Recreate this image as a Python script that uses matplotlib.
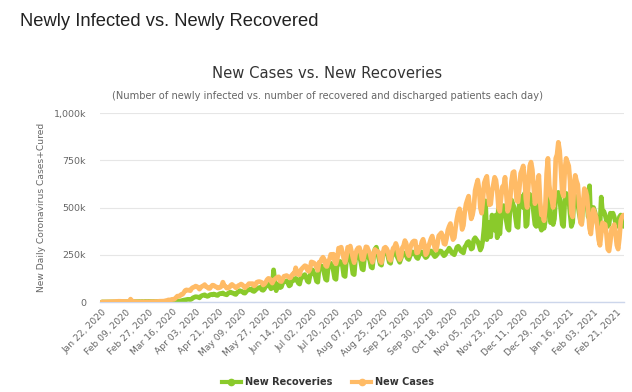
import pandas as pd
import matplotlib
matplotlib.use("Agg")
import matplotlib.pyplot as plt
from matplotlib.lines import Line2D
from matplotlib.ticker import FuncFormatter

# daily values in thousands, Jan 22, 2020 -> Feb 26, 2021 (one row per week, Wed..Tue)
new_cases = [
    0.6, 0.1, 0.3, 0.5, 0.7, 0.8, 1.3,
    1.7, 2.0, 2.1, 2.6, 2.8, 3.2, 3.9,
    3.7, 3.2, 3.4, 2.7, 3.0, 2.5, 2.0,
    2.0, 15.1, 6.5, 2.6, 2.2, 2.1, 1.9,
    0.5, 0.6, 1.0, 1.0, 1.4, 0.6, 0.9,
    1.1, 1.3, 2.0, 1.8, 2.0, 1.8, 2.5,
    2.3, 2.8, 3.9, 4.0, 3.9, 4.0, 4.6,
    7.0, 7.5, 11, 10.9, 11.5, 14.5, 13.5,
    17, 24, 31, 31, 33, 40, 41,
    50, 61, 64, 62, 63, 60, 72,
    77, 79, 84, 82, 76, 68, 77,
    83, 86, 92, 81, 79, 72, 72,
    82, 89, 88, 82, 80, 74, 75,
    78, 84, 105, 87, 83, 73, 75,
    77, 88, 93, 87, 82, 75, 80,
    87, 90, 95, 91, 83, 75, 84,
    87, 97, 97, 97, 97, 85, 90,
    104, 107, 108, 106, 103, 90, 95,
    105, 118, 125, 123, 110, 100, 115,
    121, 127, 132, 133, 110, 108, 121,
    136, 138, 140, 135, 130, 128, 141,
    150, 148, 181, 160, 145, 145, 170,
    178, 185, 192, 190, 168, 162, 175,
    212, 210, 207, 198, 183, 168, 210,
    212, 228, 237, 225, 193, 188, 212,
    226, 252, 247, 253, 212, 202, 227,
    285, 285, 290, 258, 230, 209, 240,
    290, 287, 296, 265, 233, 208, 252,
    276, 286, 288, 265, 226, 225, 260,
    292, 290, 272, 260, 230, 210, 250,
    278, 270, 268, 262, 216, 208, 252,
    285, 290, 282, 265, 228, 220, 260,
    285, 290, 310, 290, 252, 224, 238,
    287, 298, 325, 310, 262, 245, 283,
    305, 318, 323, 322, 260, 262, 289,
    288, 318, 332, 304, 250, 260, 290,
    312, 334, 349, 320, 285, 274, 305,
    350, 358, 366, 351, 309, 305, 335,
    380, 400, 415, 360, 330, 340, 395,
    440, 476, 493, 450, 384, 405, 475,
    518, 540, 560, 486, 440, 460, 500,
    590, 620, 645, 600, 500, 470, 540,
    630, 650, 665, 590, 514, 518, 585,
    620, 660, 645, 590, 496, 480, 555,
    610, 610, 660, 570, 480, 500, 545,
    640, 685, 690, 620, 536, 530, 600,
    680, 698, 720, 660, 545, 500, 620,
    720, 740, 700, 610, 520, 540, 620,
    670, 530, 460, 470, 430, 500, 680,
    760, 620, 560, 540, 500, 560, 760,
    780, 845, 800, 700, 580, 560, 700,
    760, 740, 720, 640, 470, 450, 610,
    670, 640, 620, 520, 420, 410, 520,
    600, 590, 560, 480, 390, 360, 430,
    490, 470, 450, 400, 330, 300, 360,
    420, 410, 410, 360, 280, 270, 320,
    390, 390, 410, 360, 300, 280, 340,
    430, 450, 460,
]

new_recoveries = [
    0, 0, 0, 0, 0, 0.01, 0.04,
    0.03, 0.05, 0.07, 0.08, 0.1, 0.15, 0.2,
    0.3, 0.4, 0.5, 0.7, 0.6, 0.9, 1.1,
    1.2, 1.4, 1.4, 1.7, 1.9, 2.0, 1.8,
    2.1, 2.2, 1.7, 2.8, 1.6, 2.7, 2.5,
    2.6, 3.3, 2.8, 3.0, 2.8, 2.6, 2.4,
    2.3, 2.0, 2.2, 1.7, 1.9, 1.8, 1.8,
    1.6, 1.6, 2.0, 2.5, 2.5, 3.0, 2.8,
    3.5, 3.0, 4.5, 4.0, 5.8, 6.0, 8.5,
    10, 12, 13, 14, 14, 13, 16,
    22, 25, 28, 27, 26, 22, 30,
    34, 36, 38, 33, 30, 32, 38,
    40, 38, 42, 40, 36, 35, 42,
    45, 44, 48, 42, 40, 38, 46,
    50, 52, 48, 47, 42, 40, 50,
    55, 60, 57, 55, 48, 47, 56,
    64, 66, 64, 70, 58, 56, 62,
    70, 73, 76, 78, 64, 62, 70,
    90, 85, 95, 84, 70, 75, 170,
    105, 60, 95, 88, 76, 80, 100,
    110, 108, 112, 100, 85, 90, 115,
    118, 115, 125, 120, 100, 95, 125,
    130, 140, 145, 130, 110, 105, 140,
    160, 170, 150, 140, 110, 105, 180,
    175, 190, 180, 150, 120, 115, 185,
    190, 205, 195, 165, 125, 120, 200,
    200, 215, 210, 190, 140, 135, 220,
    240, 255, 235, 200, 150, 145, 230,
    250, 260, 245, 215, 175, 170, 240,
    265, 255, 240, 220, 185, 180, 250,
    280, 290, 260, 230, 200, 195, 250,
    270, 275, 260, 240, 210, 205, 255,
    265, 270, 250, 240, 225, 210, 230,
    250, 260, 255, 245, 230, 225, 245,
    255, 265, 260, 250, 235, 230, 250,
    255, 265, 260, 245, 235, 240, 255,
    260, 270, 265, 250, 240, 245, 255,
    265, 270, 268, 255, 245, 250, 265,
    270, 285, 275, 260, 255, 250, 270,
    290, 295, 285, 270, 265, 260, 290,
    300, 315, 320, 300, 280, 285, 330,
    340, 330, 320, 300, 275, 290, 330,
    400, 535, 330, 360, 420, 345, 460,
    420, 380, 460, 340, 520, 360, 450,
    500, 510, 470, 430, 390, 380, 520,
    540, 520, 500, 450, 400, 395, 530,
    560, 540, 500, 575, 400, 410, 540,
    570, 560, 540, 470, 410, 400, 530,
    550, 400, 380, 420, 390, 430, 560,
    500, 575, 420, 440, 410, 440, 560,
    570, 580, 550, 480, 410, 400, 540,
    575, 560, 550, 470, 400, 420, 540,
    560, 550, 520, 470, 430, 420, 530,
    540, 560, 520, 450, 615, 400, 470,
    500, 480, 450, 410, 380, 400, 555,
    470, 480, 460, 430, 400, 410, 470,
    460, 470, 450, 420, 400, 410, 450,
    460, 450, 400,
]

dates = pd.date_range("2020-01-22", periods=len(new_cases), freq="D")
days = list(range(len(dates)))
tick_days = days[::18]
tick_labels = [dates[d].strftime("%b %d, %Y") for d in tick_days]

green = "#8aca2b"
orange = "#ffbb66"

fig = plt.figure(figsize=(6.32, 3.92), dpi=100)
ax = fig.add_axes([100 / 632, 1 - 302 / 392, 524 / 632, 189 / 392])

ax.plot(days, [v * 1000 for v in new_recoveries], color=green, lw=3.4,
        solid_joinstyle="round", solid_capstyle="round", zorder=2)
ax.plot(days, [v * 1000 for v in new_cases], color=orange, lw=3.4,
        solid_joinstyle="round", solid_capstyle="round", zorder=3)

ax.set_xlim(-1.5, len(days) - 0.5)
ax.set_ylim(0, 1000000)
ax.set_yticks([0, 250000, 500000, 750000, 1000000])
ax.yaxis.set_major_formatter(FuncFormatter(
    lambda v, p: "0" if v == 0 else "{:,.0f}k".format(v / 1000)))
ax.set_xticks(tick_days)
ax.set_xticklabels(tick_labels, rotation=45, ha="right", rotation_mode="anchor")

ax.grid(axis="y", color="#e6e6e6", lw=0.8)
ax.set_axisbelow(True)
for side in ["top", "right", "left"]:
    ax.spines[side].set_visible(False)
ax.spines["bottom"].set_color("#ccd6eb")
ax.spines["bottom"].set_linewidth(1.0)
ax.tick_params(axis="y", length=0, pad=10, labelsize=6.8, labelcolor="#666666")
ax.tick_params(axis="x", length=0, pad=4, labelsize=6.6, labelcolor="#666666")

fig.text(42 / 632, 1 - 207 / 392, "New Daily Coronavirus Cases+Cured",
         rotation=90, ha="center", va="center", fontsize=6.6, color="#666666")

fig.text(20 / 632, 1 - 21 / 392, "Newly Infected vs. Newly Recovered",
         family="Liberation Sans", fontsize=13.2, color="#222222", va="center")
fig.text(327 / 632, 1 - 73 / 392, "New Cases vs. New Recoveries",
         ha="center", va="center", fontsize=10.6, color="#333333")
fig.text(327 / 632, 1 - 96 / 392,
         "(Number of newly infected vs. number of recovered and discharged patients each day)",
         ha="center", va="center", fontsize=7.1, color="#666666")

handles = [
    Line2D([], [], color=green, lw=3, marker="o", markersize=4.5),
    Line2D([], [], color=orange, lw=3, marker="o", markersize=4.5),
]
fig.legend(handles, ["New Recoveries", "New Cases"], loc="center",
           bbox_to_anchor=(328 / 632, 1 - 382 / 392), ncol=2, frameon=False,
           prop={"size": 7.0, "weight": "bold"}, labelcolor="#333333",
           handlelength=2.0, handletextpad=0.4, columnspacing=2.0)

fig.savefig("out.png", dpi=100)
